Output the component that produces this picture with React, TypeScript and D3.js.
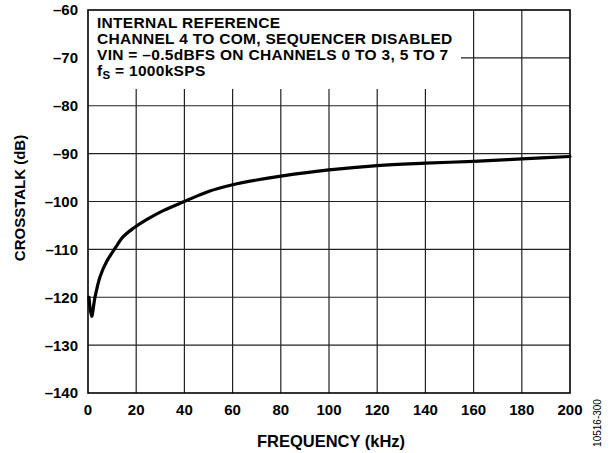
import React from "react";
import * as d3 from "d3";

const freqKHz = [0.4, 1.5, 2.9, 5, 7.8, 11.2, 14.7, 18.8, 24.3, 31.2, 40, 50, 60, 70, 80, 100, 120, 140, 160, 180, 200];
const crosstalkDb = [-120, -124, -120, -115.7, -112.5, -109.8, -107.3, -105.6, -103.8, -101.9, -100, -97.9, -96.5, -95.5, -94.7, -93.4, -92.5, -92.0, -91.6, -91.1, -90.6];
const xTicks = [0, 20, 40, 60, 80, 100, 120, 140, 160, 180, 200];
const yTicks = [-60, -70, -80, -90, -100, -110, -120, -130, -140];
const noteLines = [
  "INTERNAL REFERENCE",
  "CHANNEL 4 TO COM, SEQUENCER DISABLED",
  "VIN = \u20130.5dBFS ON CHANNELS 0 TO 3, 5 TO 7",
];

const W = 611;
const H = 453;
const L = 88, R = 570, T = 10, B = 393;
const FONT = "Liberation Sans, Arial, Helvetica, sans-serif";

export default function App() {
  const x = d3.scaleLinear().domain([0, 200]).range([L, R]);
  const y = d3.scaleLinear().domain([-140, -60]).range([B, T]);
  const line = d3
    .line<number>()
    .x((_, i) => x(freqKHz[i]))
    .y((d) => y(d))
    .curve(d3.curveCatmullRom.alpha(0.5));
  const boxR = 461, boxB = 89;
  const fmt = (v: number) => (v < 0 ? "\u2013" + Math.abs(v) : String(v));
  return (
    <svg width={W} height={H} style={{ position: "absolute", left: 0, top: 0, background: "#fff" }}>
      <rect x={0} y={0} width={W} height={H} fill="#fff" />
      {xTicks.slice(1, -1).map((t) => (
        <line key={"gx" + t} x1={x(t)} x2={x(t)} y1={x(t) < boxR ? boxB : T} y2={B} stroke="#222" strokeWidth={1.2} />
      ))}
      {yTicks.slice(1, -1).map((t) => (
        <line key={"gy" + t} x1={y(t) < boxB ? boxR : L} x2={R} y1={y(t)} y2={y(t)} stroke="#222" strokeWidth={1.2} />
      ))}
      <rect x={L} y={T} width={R - L} height={B - T} fill="none" stroke="#000" strokeWidth={1.6} />
      <path d={line(crosstalkDb) || ""} fill="none" stroke="#000" strokeWidth={3.2} strokeLinejoin="round" strokeLinecap="round" />
      <g fontFamily={FONT} fontWeight="bold" fontSize={15.5} fill="#000" letterSpacing={0.3}>
        {noteLines.map((s, i) => (
          <text key={i} x={97} y={27.5 + i * 16}>{s}</text>
        ))}
        <text x={97} y={27.5 + 3 * 16}>
          f<tspan fontSize={11.5} dy={3.5}>S</tspan>
          <tspan dy={-3.5}> = 1000kSPS</tspan>
        </text>
      </g>
      <g fontFamily={FONT} fontWeight="bold" fontSize={15} fill="#000">
        {yTicks.map((t) => (
          <text key={"ly" + t} x={78} y={y(t)} dy="0.36em" textAnchor="end">{fmt(t)}</text>
        ))}
        {xTicks.map((t) => (
          <text key={"lx" + t} x={x(t)} y={415} textAnchor="middle">{fmt(t)}</text>
        ))}
        <text x={331} y={447} textAnchor="middle" fontSize={16.5}>FREQUENCY (kHz)</text>
        <text transform={`translate(25,198) rotate(-90)`} textAnchor="middle">CROSSTALK (dB)</text>
      </g>
      <text transform="translate(601,423) rotate(-90)" textAnchor="middle" fontFamily={FONT} fontSize={10} fill="#000">10516-300</text>
    </svg>
  );
}
